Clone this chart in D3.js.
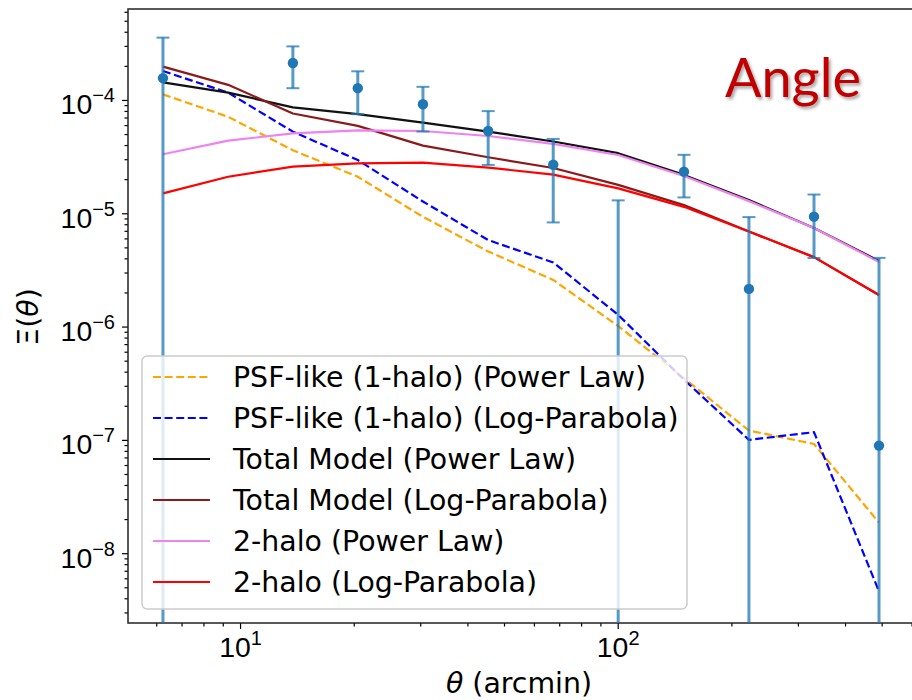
<!DOCTYPE html>
<html>
<head>
<meta charset="utf-8">
<script src="https://cdn.jsdelivr.net/npm/d3@7"></script>
<style>
  body { margin: 0; background: #fff; }
  svg { display: block; font-family: "DejaVu Sans", sans-serif; }
</style>
</head>
<body>
<div id="chart"></div>
<script>
// angular bins (arcmin) where the models are evaluated
const theta = [6.25, 9.3, 13.8, 20.5, 30.5, 45.4, 67.5, 100.3, 149.8, 222.6, 331, 492];

// model curves
const psfPowerLaw   = [1.12e-4, 7.1e-5, 3.6e-5, 2.1e-5, 9.3e-6, 4.6e-6, 2.58e-6, 1.01e-6, 3.5e-7, 1.21e-7, 9.2e-8, 1.86e-8];
const psfLogParab   = [1.80e-4, 1.16e-4, 5.25e-5, 2.95e-5, 1.27e-5, 5.8e-6, 3.68e-6, 1.27e-6, 3.4e-7, 1.0e-7, 1.17e-7, 4.6e-9];
const totalPowerLaw = [1.43e-4, 1.16e-4, 8.6e-5, 7.5e-5, 6.3e-5, 5.25e-5, 4.3e-5, 3.39e-5, 2.18e-5, 1.31e-5, 7.4e-6, 3.8e-6];
const totalLogParab = [1.97e-4, 1.36e-4, 7.6e-5, 5.9e-5, 3.95e-5, 3.12e-5, 2.51e-5, 1.78e-5, 1.18e-5, 6.9e-6, 4.1e-6, 1.9e-6];
const haloPowerLaw  = [3.32e-5, 4.37e-5, 5.08e-5, 5.38e-5, 5.32e-5, 4.81e-5, 4.09e-5, 3.27e-5, 2.13e-5, 1.28e-5, 7.4e-6, 3.72e-6];
const haloLogParab  = [1.50e-5, 2.10e-5, 2.58e-5, 2.76e-5, 2.80e-5, 2.53e-5, 2.19e-5, 1.66e-5, 1.14e-5, 6.9e-6, 4.1e-6, 1.9e-6];

// measured points with symmetric errors
const obsTheta = [6.25, 13.8, 20.5, 30.5, 45.4, 67.5, 100.3, 149.8, 222.6, 331, 492];
const obsValue = [1.56e-4, 2.12e-4, 1.27e-4, 9.16e-5, 5.32e-5, 2.68e-5, -7e-6, 2.33e-5, 2.15e-6, 9.33e-6, 8.9e-8];
const obsError = [1.99e-4, 0.85e-4, 0.52e-4, 3.9e-5, 2.65e-5, 1.85e-5, 2.0e-5, 0.95e-5, 7.1e-6, 5.3e-6, 3.95e-6];

// tick labels
const xMajor = [10, 100];
const xMajorLabels = [["10", "1"], ["10", "2"]];
const yMajor = [1e-8, 1e-7, 1e-6, 1e-5, 1e-4];
const yMajorLabels = [["10", "\u22128"], ["10", "\u22127"], ["10", "\u22126"], ["10", "\u22125"], ["10", "\u22124"]];

const series = [
  { label: "PSF-like (1-halo) (Power Law)",    values: psfPowerLaw,   color: "#ffa500", dash: "8,3.6" },
  { label: "PSF-like (1-halo) (Log-Parabola)", values: psfLogParab,   color: "#0000ff", dash: "8,3.6" },
  { label: "Total Model (Power Law)",          values: totalPowerLaw, color: "#111111", dash: null },
  { label: "Total Model (Log-Parabola)",       values: totalLogParab, color: "#8b1a1a", dash: null },
  { label: "2-halo (Power Law)",               values: haloPowerLaw,  color: "#ee82ee", dash: null },
  { label: "2-halo (Log-Parabola)",            values: haloLogParab,  color: "#ff0000", dash: null }
];

const W = 912, H = 700;
const L = 128, T = 9, R = 914, B = 623;
const FS = "28.4px";

const svg = d3.select("#chart").append("svg")
  .attr("width", W).attr("height", H);

const x = d3.scaleLog().domain([5.05, 609]).range([L, R]);
const y = d3.scaleLog().domain([2.42e-9, 6.35e-4]).range([B, T]);

svg.append("defs").append("clipPath").attr("id", "plot")
  .append("rect").attr("x", L).attr("y", T).attr("width", R - L).attr("height", B - T);

const shadow = svg.select("defs").append("filter").attr("id", "shadow")
  .attr("x", "-10%").attr("y", "-10%").attr("width", "130%").attr("height", "140%");
shadow.append("feDropShadow").attr("dx", 2).attr("dy", 2.5)
  .attr("stdDeviation", 1.5).attr("flood-color", "#000").attr("flood-opacity", 0.35);

// minor tick values 2..9 x decade
function minorTicks(lo, hi) {
  const out = [];
  for (let e = Math.floor(Math.log10(lo)); e <= Math.ceil(Math.log10(hi)); e++) {
    for (let m = 2; m <= 9; m++) {
      const v = m * Math.pow(10, e);
      if (v >= lo && v <= hi) out.push(v);
    }
  }
  return out;
}

// === AXES ===
const gx = svg.append("g").attr("transform", `translate(0,${B})`);
gx.call(d3.axisBottom(x).tickValues(minorTicks(5.05, 609)).tickSize(3.5).tickFormat(""));
gx.call(g => g.select(".domain").remove());
const gxMaj = svg.append("g").attr("transform", `translate(0,${B})`)
  .call(d3.axisBottom(x).tickValues(xMajor).tickSize(6).tickFormat(""));
gxMaj.select(".domain").remove();
gxMaj.selectAll(".tick").each(function (d, i) {
  const t = d3.select(this).append("text")
    .attr("y", 34).attr("fill", "#000").attr("text-anchor", "middle")
    .style("font-size", FS);
  t.append("tspan").text(xMajorLabels[i][0]);
  t.append("tspan").attr("dy", -12).style("font-size", "20px").text(xMajorLabels[i][1]);
});

const gy = svg.append("g").attr("transform", `translate(${L},0)`);
gy.call(d3.axisLeft(y).tickValues(minorTicks(2.42e-9, 6.35e-4)).tickSize(3.5).tickFormat(""));
gy.call(g => g.select(".domain").remove());
const gyMaj = svg.append("g").attr("transform", `translate(${L},0)`)
  .call(d3.axisLeft(y).tickValues(yMajor).tickSize(6).tickFormat(""));
gyMaj.select(".domain").remove();
gyMaj.selectAll(".tick").each(function (d, i) {
  const t = d3.select(this).append("text")
    .attr("x", -13).attr("y", 14).attr("fill", "#000").attr("text-anchor", "end")
    .style("font-size", FS);
  t.append("tspan").text(yMajorLabels[i][0]);
  t.append("tspan").attr("dy", -12).style("font-size", "20px").text(yMajorLabels[i][1]);
});

svg.selectAll(".tick line").attr("stroke", "#000").attr("stroke-width", 1.2);

// frame
svg.append("rect").attr("x", L).attr("y", T).attr("width", R - L).attr("height", B - T)
  .attr("fill", "none").attr("stroke", "#222").attr("stroke-width", 1.5);

// axis labels
const xl = svg.append("text").attr("x", 519).attr("y", 693)
  .attr("text-anchor", "middle").style("font-size", FS).attr("fill", "#000");
xl.append("tspan").style("font-style", "italic").text("\u03b8");
xl.append("tspan").text(" (arcmin)");

const yl = svg.append("text").attr("transform", "translate(38,317) rotate(-90)")
  .attr("text-anchor", "middle").style("font-size", FS).attr("fill", "#000");
yl.append("tspan").text("\u039e(");
yl.append("tspan").style("font-style", "italic").text("\u03b8");
yl.append("tspan").text(")");

// === MODEL LINES ===
const line = d3.line().x((d, i) => x(theta[i])).y(d => y(d));
const plot = svg.append("g").attr("clip-path", "url(#plot)");
series.forEach(s => {
  plot.append("path")
    .attr("d", line(s.values))
    .attr("fill", "none")
    .attr("stroke", s.color)
    .attr("stroke-width", 2.2)
    .attr("stroke-linejoin", "round")
    .attr("stroke-dasharray", s.dash);
});

// === ERROR BARS ===
const ebColor = "#1f77b4";
obsTheta.forEach((t, i) => {
  const v = obsValue[i], e = obsError[i];
  const cx = x(t);
  const top = y(v + e);
  const lowOk = v - e > 0;
  const bot = lowOk ? y(v - e) : B + 2;
  const g = plot.append("g").attr("stroke", ebColor).attr("stroke-opacity", 0.75);
  g.append("line").attr("x1", cx).attr("x2", cx).attr("y1", top).attr("y2", bot).attr("stroke-width", 3);
  g.append("line").attr("x1", cx - 6.5).attr("x2", cx + 6.5).attr("y1", top).attr("y2", top).attr("stroke-width", 2);
  if (lowOk) {
    g.append("line").attr("x1", cx - 6.5).attr("x2", cx + 6.5).attr("y1", bot).attr("y2", bot).attr("stroke-width", 2);
  }
  if (v > 0) {
    plot.append("circle").attr("cx", cx).attr("cy", y(v)).attr("r", 5.2).attr("fill", ebColor);
  }
});

// === LEGEND ===
const lg = svg.append("g");
lg.append("rect").attr("x", 142).attr("y", 356).attr("width", 545).attr("height", 253)
  .attr("rx", 5).attr("fill", "#fff").attr("fill-opacity", 0.8)
  .attr("stroke", "#cccccc").attr("stroke-width", 1.5);
series.forEach((s, i) => {
  const cy = 377 + i * 41;
  lg.append("line").attr("x1", 153).attr("x2", 210).attr("y1", cy).attr("y2", cy)
    .attr("stroke", s.color).attr("stroke-width", 2.2).attr("stroke-dasharray", s.dash);
  lg.append("text").attr("x", 233).attr("y", cy).attr("dy", "0.36em")
    .style("font-size", FS).attr("fill", "#000").text(s.label);
});

// title-like annotation
svg.append("text").attr("x", 725).attr("y", 97)
  .style("font-family", "Lato, 'Open Sans', sans-serif").style("font-size", "54px")
  .attr("fill", "#c00000").attr("filter", "url(#shadow)").text("Angle");
</script>
</body>
</html>
